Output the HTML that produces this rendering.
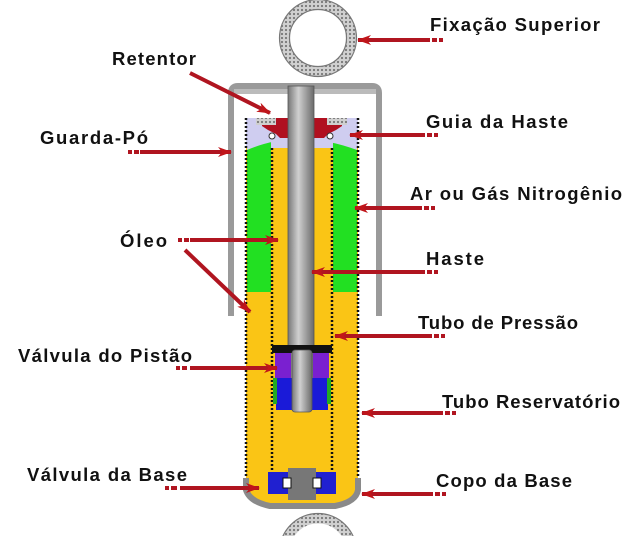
<!DOCTYPE html>
<html><head><meta charset="utf-8"><style>
html,body{margin:0;padding:0;background:#fff;width:639px;height:536px;overflow:hidden}
svg{display:block;overflow:hidden}
text{font-family:"Liberation Sans",sans-serif;font-weight:bold;font-size:18.5px;fill:#111}
</style></head><body>
<svg width="639" height="536" viewBox="0 0 639 536" xmlns="http://www.w3.org/2000/svg">
<defs>
<pattern id="hatch" width="4" height="4" patternUnits="userSpaceOnUse">
<rect width="4" height="4" fill="#d0d0d0"/><circle cx="2" cy="2" r="1.1" fill="#777"/></pattern>
<linearGradient id="rod" x1="0" x2="1"><stop offset="0" stop-color="#777"/><stop offset="0.4" stop-color="#d0d0d0"/><stop offset="1" stop-color="#6a6a6a"/></linearGradient>
<marker id="ah" markerWidth="14" markerHeight="10" refX="13" refY="5" orient="auto" markerUnits="userSpaceOnUse"><path d="M0,0 L14,5 L0,10 L4,5 Z" fill="#c0151a"/></marker>
</defs>
<circle cx="318" cy="38" r="33.5" fill="none" stroke="url(#hatch)" stroke-width="10"/>
<circle cx="318" cy="38" r="38.5" fill="none" stroke="#777" stroke-width="1.2"/>
<circle cx="318" cy="38" r="28.5" fill="none" stroke="#777" stroke-width="1.2"/>
<circle cx="318" cy="552" r="33.5" fill="none" stroke="url(#hatch)" stroke-width="10"/>
<circle cx="318" cy="552" r="38.5" fill="none" stroke="#777" stroke-width="1.2"/>
<path d="M231,316 L231,93 Q231,86 238,86 L372,86 Q379,86 379,93 L379,316" fill="none" stroke="#9a9a9a" stroke-width="6"/>
<rect x="234" y="89" width="142" height="5" fill="#bbb"/>
<path d="M246,118 L358,118 L358,490 Q358,500 340,503 L300,506 Q280,506 260,501 Q246,497 246,488 Z" fill="#fac515"/>
<rect x="246" y="118" width="112" height="30" fill="#cfcdf0"/>
<rect x="247" y="140" width="24" height="152" fill="#22e022"/>
<rect x="333" y="140" width="24" height="152" fill="#22e022"/>
<path d="M247,150 Q270,140 300,138 Q330,140 357,150 L357,140 L247,140Z" fill="#cfcdf0"/>
<line x1="246" y1="118" x2="246" y2="488" stroke="#111" stroke-width="2.5" stroke-dasharray="2 2"/>
<line x1="358" y1="118" x2="358" y2="488" stroke="#111" stroke-width="2.5" stroke-dasharray="2 2"/>
<line x1="272" y1="148" x2="272" y2="470" stroke="#111" stroke-width="2.5" stroke-dasharray="2 2"/>
<line x1="332" y1="148" x2="332" y2="470" stroke="#111" stroke-width="2.5" stroke-dasharray="2 2"/>
<path d="M262,118 L290,118 L290,138 L280,138 L276,134 L268,130 L262,126Z" fill="#b01020"/>
<path d="M314,118 L342,118 L342,126 L336,130 L328,134 L324,138 L314,138Z" fill="#b01020"/>
<rect x="256" y="118" width="20" height="7" fill="url(#hatch)"/>
<rect x="327" y="118" width="20" height="7" fill="url(#hatch)"/>
<circle cx="272" cy="136" r="3" fill="#fff" stroke="#333"/>
<circle cx="330" cy="136" r="3" fill="#fff" stroke="#333"/>
<path d="M246,478 L246,490 Q250,502 270,506 L335,506 Q356,502 358,490 L358,478" fill="none" stroke="#8a8a8a" stroke-width="6"/>
<rect x="268" y="472" width="68" height="22" fill="#2020d0"/>
<rect x="288" y="468" width="28" height="32" fill="#777"/>
<rect x="283" y="478" width="8" height="10" fill="#fff" stroke="#111"/>
<rect x="313" y="478" width="8" height="10" fill="#fff" stroke="#111"/>
<rect x="288" y="86" width="26" height="320" fill="url(#rod)" stroke="#555" stroke-width="0.8"/>
<rect x="272" y="345" width="60" height="8" fill="#111"/>
<rect x="275" y="353" width="16" height="25" fill="#7a20d0"/>
<rect x="313" y="353" width="16" height="25" fill="#7a20d0"/>
<rect x="276" y="378" width="16" height="32" fill="#1a1ad8"/>
<rect x="312" y="378" width="16" height="32" fill="#1a1ad8"/>
<rect x="273" y="378" width="4" height="26" fill="#2a2"/>
<rect x="327" y="378" width="4" height="26" fill="#2a2"/>
<rect x="292" y="350" width="20" height="62" rx="3" fill="url(#rod)" stroke="#555" stroke-width="0.8"/>
<g stroke="#b01520" stroke-width="4" fill="none" marker-end="url(#ah)">
<line x1="430" y1="40" x2="358" y2="40"/>
<line x1="190" y1="73" x2="270" y2="113"/>
<line x1="425" y1="135" x2="350" y2="135"/>
<line x1="140" y1="152" x2="231" y2="152"/>
<line x1="422" y1="208" x2="355" y2="208"/>
<line x1="190" y1="240" x2="278" y2="240"/>
<line x1="185" y1="250" x2="250" y2="312"/>
<line x1="425" y1="272" x2="312" y2="272"/>
<line x1="432" y1="336" x2="335" y2="336"/>
<line x1="190" y1="368" x2="277" y2="368"/>
<line x1="443" y1="413" x2="362" y2="413"/>
<line x1="180" y1="488" x2="259" y2="488"/>
<line x1="433" y1="494" x2="362" y2="494"/>
</g>
<g fill="#b01520">
<rect x="432" y="38" width="5" height="4"/><rect x="439" y="38" width="4" height="4"/>
<rect x="427" y="133" width="5" height="4"/><rect x="434" y="133" width="4" height="4"/>
<rect x="128" y="150" width="4" height="4"/><rect x="134" y="150" width="5" height="4"/>
<rect x="424" y="206" width="5" height="4"/><rect x="431" y="206" width="4" height="4"/>
<rect x="178" y="238" width="4" height="4"/><rect x="184" y="238" width="5" height="4"/>
<rect x="427" y="270" width="5" height="4"/><rect x="434" y="270" width="4" height="4"/>
<rect x="434" y="334" width="5" height="4"/><rect x="441" y="334" width="4" height="4"/>
<rect x="176" y="366" width="4" height="4"/><rect x="182" y="366" width="5" height="4"/>
<rect x="445" y="411" width="5" height="4"/><rect x="452" y="411" width="4" height="4"/>
<rect x="165" y="486" width="4" height="4"/><rect x="171" y="486" width="6" height="4"/>
<rect x="435" y="492" width="5" height="4"/><rect x="442" y="492" width="4" height="4"/>
</g>
<text x="430" y="31" textLength="170" lengthAdjust="spacing">Fixação Superior</text>
<text x="112" y="65" textLength="84" lengthAdjust="spacing">Retentor</text>
<text x="426" y="128" textLength="142" lengthAdjust="spacing">Guia da Haste</text>
<text x="40" y="144" textLength="108" lengthAdjust="spacing">Guarda-Pó</text>
<text x="410" y="200" textLength="212" lengthAdjust="spacing">Ar ou Gás Nitrogênio</text>
<text x="120" y="247" textLength="47" lengthAdjust="spacing">Óleo</text>
<text x="426" y="265" textLength="58" lengthAdjust="spacing">Haste</text>
<text x="418" y="329" textLength="160" lengthAdjust="spacing">Tubo de Pressão</text>
<text x="18" y="362" textLength="174" lengthAdjust="spacing">Válvula do Pistão</text>
<text x="442" y="408" textLength="178" lengthAdjust="spacing">Tubo Reservatório</text>
<text x="27" y="481" textLength="160" lengthAdjust="spacing">Válvula da Base</text>
<text x="436" y="487" textLength="136" lengthAdjust="spacing">Copo da Base</text>
</svg>
</body></html>
